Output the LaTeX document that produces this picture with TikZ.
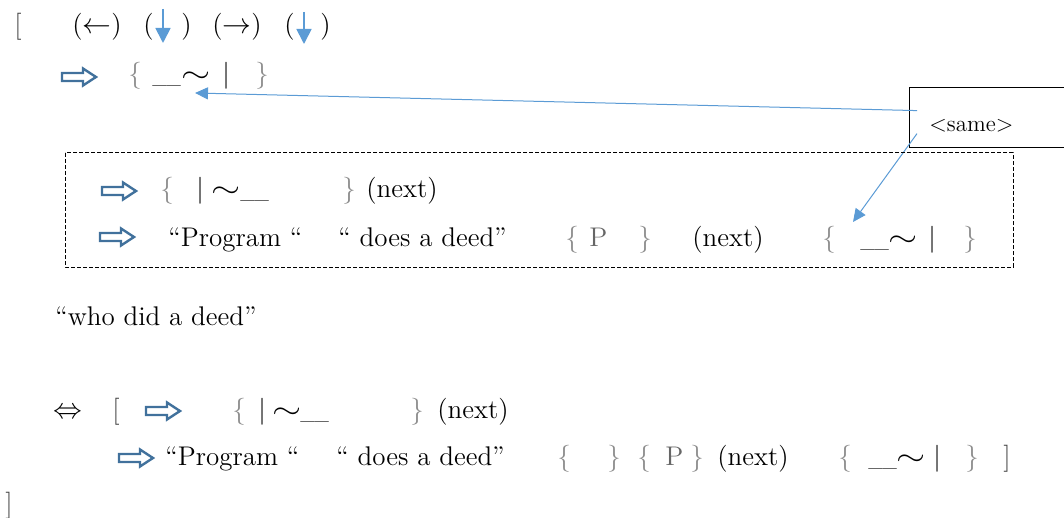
\documentclass[tikz,border=0pt]{standalone}
\usepackage{fontspec}
\usepackage{amsmath, amssymb}
\usepackage{graphicx}
\usetikzlibrary{arrows.meta}
\definecolor{linkblue}{RGB}{91,155,213}
\definecolor{hollowblue}{RGB}{65,113,156}
\definecolor{bracegray}{RGB}{140,140,140}
\newcommand{\lowbar}{\scalebox{0.72}[1]{\_\_}}
\newcommand{\wave}{\scalebox{1.3}[1]{$\sim$}}

\begin{document}
\begin{tikzpicture}[x=0.5pt, y=-0.5pt, font=\fontsize{13.5}{16}\selectfont,
    txt/.style={anchor=base west, inner sep=0pt},
    brc/.style={txt, text=bracegray},
    sqb/.style={txt, text=black!75},
    pgr/.style={txt, text=black!60},
    downarr/.style={linkblue, line width=0.9pt, -{Triangle[length=7.5pt, width=7.5pt]}},
    callarr/.style={linkblue, line width=0.5pt, -{Triangle[length=6.5pt, width=6pt]}},
    samebox/.style={draw, line width=0.6pt, minimum width=90pt, minimum height=30pt, inner sep=0pt, anchor=north west},
    dashbox/.style={draw, line width=0.5pt, dash pattern=on 2pt off 1pt},
    hollowarr/.pic={\draw[hollowblue, line width=1.2pt, fill=white] (0,-4) -- (21,-4) -- (21,-8.5) -- (34,0) -- (21,8.5) -- (21,4) -- (0,4) -- cycle;}]
    \useasboundingbox (0,0) rectangle (1064,518);

    % row 1
    \node[sqb] (lbr) at (14,34) {[};
    \node[txt] (pl) at (72,34) {($\leftarrow$)};
    \node[txt] (pd1l) at (143,34) {(};
    \node[txt] (pd1r) at (181,34) {)};
    \node[txt] (pr) at (212,34) {($\rightarrow$)};
    \node[txt] (pd2l) at (284,34) {(};
    \node[txt] (pd2r) at (320,34) {)};
    \coordinate (d1top) at (163,9);
    \coordinate (d1tip) at (163,43);
    \coordinate (d2top) at (304,12);
    \coordinate (d2tip) at (304,44);
    \draw[downarr] (d1top) -- (d1tip);
    \draw[downarr] (d2top) -- (d2tip);

    % row 2
    \pic at (62,77) {hollowarr};
    \node[brc] (b2l) at (128,83) {\{};
    \node[txt] (u2) at (152,83) {\lowbar};
    \node[txt] (t2) at (181,83) {\wave};
    \node[txt] (v2) at (222,83) {|};
    \node[brc] (b2r) at (255,83) {\}};

    % callout
    \node[samebox] (same) at (909,87) {};
    \node[txt, font=\fontsize{11.5}{14}\selectfont] (sametxt) at (929,132) {<same>};
    \coordinate (tipA) at (195,93);
    \coordinate (tipB) at (853,222);
    \draw[callarr] ([xshift=4pt, yshift=3.5pt]same.west) -- (tipA);
    \draw[callarr] ([xshift=4pt, yshift=-8pt]same.west) -- (tipB);

    % dashed frame
    \draw[dashbox] (65,153) rectangle (1013,267);

    % row 3
    \pic at (102,191) {hollowarr};
    \node[brc] (b3l) at (160,198) {\{};
    \node[txt] (v3) at (196,198) {|};
    \node[txt] (t3) at (211,198) {\wave};
    \node[txt] (u3) at (240,198) {\lowbar};
    \node[brc] (b3r) at (342,198) {\}};
    \node[txt] (n3) at (366,198) {(next)};

    % row 4
    \pic at (100,237) {hollowarr};
    \node[txt] (prog4) at (168,246) {“Program “};
    \node[txt] (deed4) at (338,246) {“ does a deed”};
    \node[brc] (b4l) at (565,246) {\{};
    \node[pgr] (p4) at (589,246) {P};
    \node[brc] (b4r) at (638,246) {\}};
    \node[txt] (n4) at (692,246) {(next)};
    \node[brc] (c4l) at (822,246) {\{};
    \node[txt] (u4) at (860,246) {\lowbar};
    \node[txt] (t4) at (888,246) {\wave};
    \node[txt] (v4) at (928,246) {|};
    \node[brc] (c4r) at (963,246) {\}};

    % row 5
    \node[txt] (who) at (55,325) {“who did a deed”};

    % row 6
    \node[txt] (iff) at (53,418) {$\Leftrightarrow$};
    \node[sqb] (lbr6) at (112,418) {[};
    \pic at (146,411) {hollowarr};
    \node[brc] (b6l) at (232,418) {\{};
    \node[txt] (v6) at (258,418) {|};
    \node[txt] (t6) at (272,418) {\wave};
    \node[txt] (u6) at (300,418) {\lowbar};
    \node[brc] (b6r) at (410,418) {\}};
    \node[txt] (n6) at (437,418) {(next)};

    % row 7
    \pic at (119,458) {hollowarr};
    \node[txt] (prog7) at (165,465) {“Program “};
    \node[txt] (deed7) at (336,465) {“ does a deed”};
    \node[brc] (e7l) at (557,465) {\{};
    \node[brc] (e7r) at (607,465) {\}};
    \node[brc] (b7l) at (637,465) {\{};
    \node[pgr] (p7) at (665,465) {P};
    \node[brc] (b7r) at (690,465) {\}};
    \node[txt] (n7) at (717,465) {(next)};
    \node[brc] (c7l) at (838,465) {\{};
    \node[txt] (u7) at (868,465) {\lowbar};
    \node[txt] (t7) at (896,465) {\wave};
    \node[txt] (v7) at (933,465) {|};
    \node[brc] (c7r) at (965,465) {\}};
    \node[sqb] (rbr7) at (1003,465) {]};

    % row 8
    \node[sqb] (rbr) at (5,512) {]};
\end{tikzpicture}
\end{document}
